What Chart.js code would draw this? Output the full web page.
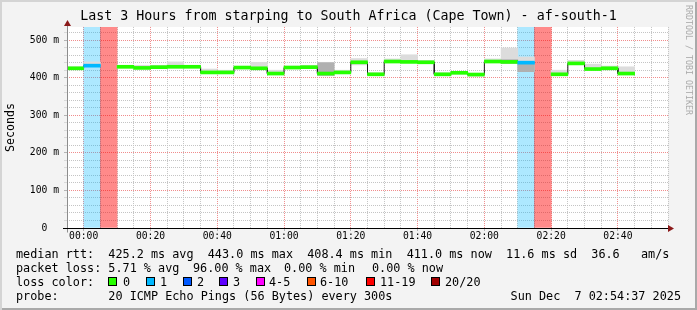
<!DOCTYPE html>
<html>
<head>
<meta charset="utf-8">
<script src="https://cdn.jsdelivr.net/npm/chart.js@4.4.1/dist/chart.umd.min.js"></script>
<style>
  html, body { margin: 0; padding: 0; background: #f3f3f3; }
  #frame {
    position: relative; width: 697px; height: 310px; overflow: hidden;
    background: #f3f3f3;
    box-shadow: inset 2px 2px 0 #d4d4d4, inset -2px -2px 0 #a9a9a9;
  }
  #chart { position: absolute; left: 0; top: 0; }
  .t { position: absolute; font: 11.8px 'DejaVu Sans Mono', monospace; line-height: 14px; white-space: pre; color: #000; }
  .sw { position: absolute; width: 7px; height: 7px; border: 1px solid #000; }
  #stamp {
    position: absolute; left: 694px; top: 5px; transform: rotate(90deg); transform-origin: 0 0;
    font: 8.3px 'DejaVu Sans Mono', monospace; line-height: 10px; color: #aaaaaa; white-space: pre;
  }
</style>
</head>
<body>
<div id="frame">
  <canvas id="chart" width="697" height="310"></canvas>
  <div id="legend"></div>
  <div id="stamp">RRDTOOL / TOBI OETIKER</div>
</div>
<script>
// 5 minute steps, step start times
const times = ['23:55','00:00','00:05','00:10','00:15','00:20','00:25','00:30','00:35','00:40','00:45','00:50',
  '00:55','01:00','01:05','01:10','01:15','01:20','01:25','01:30','01:35','01:40','01:45','01:50',
  '01:55','02:00','02:05','02:10','02:15','02:20','02:25','02:30','02:35','02:40','02:45','02:50'];

// median rtt in ms (null = no data)
const medianMs = [425, 432, null, 429, 426, 428, 429, 429, 414, 414, 427, 425,
  411, 427, 428, 411, 414, 441, 409, 443, 442, 441, 409, 413,
  408.4, 443, 442, 440, null, 409, 438, 423, 425, 411, null, null];

// lost pings out of 20
const lossPings = [0, 1, 19, 0, 0, 0, 0, 0, 0, 0, 0, 0,
  0, 0, 0, 0, 0, 0, 0, 0, 0, 0, 0, 0,
  0, 0, 0, 1, 19, 0, 0, 0, 0, 0, 0, 0];

// smoke (ping spread) in ms
const smokeLow  = [422, 432, null, 426, 425, 425, 426, 427, 411, 411, 424, 422,
  408, 424, 424, 405, 411, 434, 406, 441, 440, 438, 405, 410,
  404, 440, 438, 416, null, 406, 436, 421, 421, 409, null, null];
const smokeHigh = [429, 442, null, 432, 433, 433, 442, 432, 423, 420, 430, 441,
  420, 431, 433, 441, 420, 451, 413, 450, 461, 446, 413, 416,
  411, 450, 479, 455, null, 420, 446, 436, 431, 429, null, null];
const smokeDarkLow  = [null, null, null, null, null, null, null, null, null, null, null, null,
  null, null, null, 406, null, null, null, null, null, null, null, null,
  null, null, 438, 416, null, null, null, null, null, null, null, null];
const smokeDarkHigh = [null, null, null, null, null, null, null, null, null, null, null, null,
  null, null, null, 440, null, null, null, null, null, null, null, null,
  null, null, 448, 438, null, null, null, null, null, null, null, null];

const xTickLabels = ['00:00','00:20','00:40','01:00','01:20','01:40','02:00','02:20','02:40'];
const yTickLabels = ['0','100 m','200 m','300 m','400 m','500 m'];

const lossLabels = ['0', '1', '2', '3', '4-5', '6-10', '11-19', '20/20'];
const lossUpTo   = [0, 1, 2, 3, 5, 10, 19, 20];
const lossColors = ['#26ff00', '#00b8ff', '#0059ff', '#5e00ff', '#ff00ff', '#ff5500', '#ff0000', '#a00000'];

const STEP = 5;
const Y_MAX = 535;

function toMinutes(s) {
  const [h, m] = s.split(':').map(Number);
  return (h === 23 ? h - 24 : h) * 60 + m;
}
function bucketOf(n) {
  for (let i = 0; i < lossUpTo.length; i++) if (n <= lossUpTo[i]) return i;
  return lossUpTo.length - 1;
}
function rgba(hex, a) {
  const v = parseInt(hex.slice(1), 16);
  return `rgba(${v >> 16},${(v >> 8) & 255},${v & 255},${a})`;
}

const starts = times.map(toMinutes);
const centers = starts.map(t => t + STEP / 2);

const lossBg = centers.map((x, i) => ({ x, y: lossPings[i] > 0 ? [0, Y_MAX] : null }));
const lossBgColors = lossPings.map(n => rgba(lossColors[bucketOf(n)], n > 5 ? 0.46 : 0.32));
const smoke = centers.map((x, i) => ({ x, y: smokeLow[i] == null ? null : [smokeLow[i], smokeHigh[i]] }));
const smokeDark = centers.map((x, i) => ({ x, y: smokeDarkLow[i] == null ? null : [smokeDarkLow[i], smokeDarkHigh[i]] }));
const medBand = centers.map((x, i) => ({ x, y: medianMs[i] == null ? null : [medianMs[i] - 4, medianMs[i] + 4] }));
const medColors = lossPings.map(n => lossColors[bucketOf(n)]);

// step line through medians
const stepLine = [];
starts.forEach((t, i) => {
  const v = medianMs[i];
  stepLine.push({ x: t, y: v });
  stepLine.push({ x: t + STEP, y: v });
});

const barBase = { grouped: false, barPercentage: 1, categoryPercentage: 1, borderWidth: 0 };

const frameLines = {
  id: 'frameLines',
  beforeDraw(chart) {
    const { ctx, chartArea: a } = chart;
    ctx.save();
    ctx.fillStyle = '#ffffff';
    ctx.fillRect(a.left, a.top, a.right - a.left, a.bottom - a.top);
    ctx.restore();
  },
  afterDraw(chart) {
    const { ctx, chartArea: a } = chart;
    const x0 = Math.round(a.left) + 0.5;
    const yb = Math.round(a.bottom) + 0.5;
    ctx.save();
    ctx.lineWidth = 1;
    ctx.strokeStyle = '#8c8c8c';
    ctx.beginPath(); ctx.moveTo(x0, yb + 4); ctx.lineTo(x0, a.top - 5); ctx.stroke();
    ctx.strokeStyle = '#000000';
    ctx.beginPath(); ctx.moveTo(a.left - 4, yb); ctx.lineTo(a.right, yb); ctx.stroke();
    ctx.fillStyle = '#8b1a1a';
    ctx.beginPath(); ctx.moveTo(x0, a.top - 7); ctx.lineTo(x0 - 3.5, a.top - 1); ctx.lineTo(x0 + 3.5, a.top - 1); ctx.closePath(); ctx.fill();
    ctx.beginPath(); ctx.moveTo(a.right + 6, yb); ctx.lineTo(a.right, yb - 3.5); ctx.lineTo(a.right, yb + 3.5); ctx.closePath(); ctx.fill();
    ctx.restore();
  }
};

const mono = 'DejaVu Sans Mono';

new Chart(document.getElementById('chart'), {
  data: {
    datasets: [
      { type: 'bar', data: lossBg, backgroundColor: lossBgColors, order: 5, ...barBase },
      { type: 'bar', data: smoke, backgroundColor: '#dcdcdc', order: 4, ...barBase },
      { type: 'bar', data: smokeDark, backgroundColor: '#b0b0b0', order: 3, ...barBase },
      { type: 'line', data: stepLine, borderColor: '#1a1a1a', borderWidth: 1, pointRadius: 0, tension: 0, spanGaps: false, order: 2 },
      { type: 'bar', data: medBand, backgroundColor: medColors, order: 1, ...barBase }
    ]
  },
  options: {
    responsive: false,
    animation: false,
    events: [],
    layout: { padding: 0 },
    plugins: {
      legend: { display: false },
      tooltip: { enabled: false },
      title: {
        display: true,
        text: 'Last 3 Hours from starping to South Africa (Cape Town) - af-south-1',
        color: '#000',
        font: { family: mono, size: 13.3, weight: 'normal', lineHeight: 1.2 },
        padding: { top: 9, bottom: 2 }
      }
    },
    scales: {
      x: {
        type: 'linear',
        offset: false,
        min: toMinutes(times[0]),
        max: toMinutes(times[times.length - 1]) + STEP,
        afterFit: s => { s.height = 82; },
        afterBuildTicks: s => {
          const ticks = [];
          for (let v = s.min; v <= s.max; v += STEP) ticks.push({ value: v });
          s.ticks = ticks;
        },
        ticks: {
          autoSkip: false, maxRotation: 0, minRotation: 0, padding: 0,
          color: '#000',
          font: { family: mono, size: 9.7 },
          callback: v => (v >= 0 && v % 20 === 0) ? (xTickLabels[v / 20] || '') : ''
        },
        grid: {
          offset: false,
          color: c => (c.tick && c.tick.value >= 0 && c.tick.value % 20 === 0) ? '#f08c8c' : '#c4c4c4',
          tickColor: c => (c.tick && c.tick.value >= 0 && c.tick.value % 20 === 0) ? '#b4b4b4' : 'rgba(0,0,0,0)',
          tickLength: 3,
          lineWidth: 1
        },
        border: { display: false, dash: [1, 1] }
      },
      y: {
        type: 'linear',
        min: 0,
        max: Y_MAX,
        afterFit: s => { s.width = 67; },
        afterBuildTicks: s => {
          const ticks = [];
          for (let v = 0; v <= 520; v += 20) ticks.push({ value: v });
          s.ticks = ticks;
        },
        ticks: {
          autoSkip: false, padding: 5,
          color: '#000',
          font: { family: mono, size: 9.7 },
          callback: v => v % 100 === 0 ? (v === 0 ? yTickLabels[0] + '  ' : yTickLabels[v / 100]) : ''
        },
        grid: {
          color: c => (c.tick && c.tick.value % 100 === 0) ? '#f08c8c' : '#c4c4c4',
          tickColor: c => (c.tick && c.tick.value % 100 === 0) ? '#b4b4b4' : '#d8d8d8',
          tickLength: 3,
          lineWidth: 1
        },
        border: { display: false, dash: [1, 1] },
        title: {
          display: true,
          text: 'Seconds',
          color: '#000',
          font: { family: mono, size: 11.65, weight: 'normal', lineHeight: 1.2 },
          padding: { top: 3.5, bottom: 0 }
        }
      },
      yRight: {
        type: 'linear',
        position: 'right',
        display: true,
        afterFit: s => { s.width = 29; },
        ticks: { display: false },
        grid: { display: false, drawTicks: false },
        border: { display: false }
      }
    }
  },
  plugins: [frameLines]
});

// text legend below the graph: [left, text] pieces per row
const legendRows = [
  [[16, 'median rtt:  425.2 ms avg  443.0 ms max  408.4 ms min  411.0 ms now  11.6 ms sd  36.6   am/s']],
  [[16, 'packet loss: 5.71 % avg'], [193, '96.00 % max'], [284, '0.00 % min'], [372, '0.00 % now']],
  [[16, 'loss color:']],
  [[16, 'probe:       20 ICMP Echo Pings (56 Bytes) every 300s']]
];
const probeDate = 'Sun Dec  7 02:54:37 2025';
const rowTops = [247, 261, 275, 289];
const swatchX = [108, 146, 183, 219, 256, 307, 366, 431];
const swatchLabelX = [123, 160, 197, 233, 269, 320, 380, 445];

const legend = document.getElementById('legend');
function addText(text, left, top, right) {
  const d = document.createElement('div');
  d.className = 't';
  if (right != null) d.style.right = right + 'px'; else d.style.left = left + 'px';
  d.style.top = top + 'px';
  d.textContent = text;
  legend.appendChild(d);
}
legendRows.forEach((row, r) => row.forEach(([x, text]) => addText(text, x, rowTops[r])));
addText(probeDate, null, rowTops[3], 16);
lossLabels.forEach((lab, i) => {
  const s = document.createElement('div');
  s.className = 'sw';
  s.style.left = swatchX[i] + 'px';
  s.style.top = '277px';
  s.style.background = lossColors[i];
  legend.appendChild(s);
  addText(lab, swatchLabelX[i], rowTops[2]);
});
</script>
</body>
</html>
